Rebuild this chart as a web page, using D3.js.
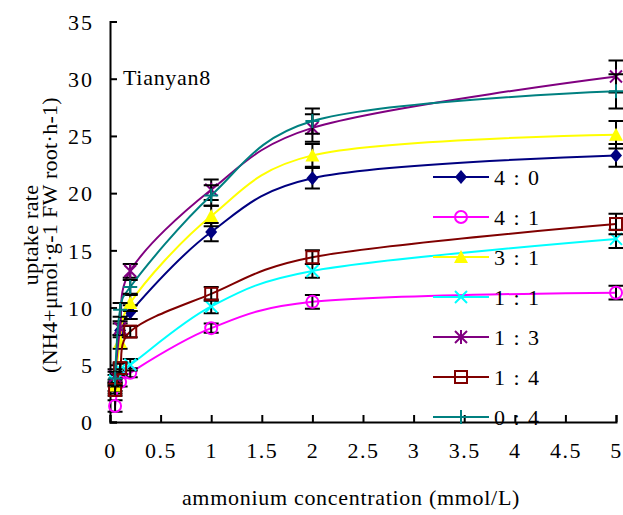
<!DOCTYPE html>
<html>
<head>
<meta charset="utf-8">
<script src="https://cdn.jsdelivr.net/npm/d3@7"></script>
<style>
  body { margin: 0; background: #fff; }
  svg { display: block; }
  text { font-family: "Liberation Serif", "Times New Roman", serif; fill: #000; }
</style>
</head>
<body>
<svg id="chart" width="623" height="515"></svg>
<script>
// Ammonium concentrations (mmol/L) at which uptake was measured
const concentrations = [0.05, 0.1, 0.2, 1, 2, 5];

// NH4+:NO3- ratio treatments
const seriesNames = ["4 : 0", "4 : 1", "3 : 1", "1 : 1", "1 : 3", "1 : 4", "0 : 4"];

// Uptake rate means (µmol·g-1 FW root·h-1)
const rate4to0 = [3.0, 8.0, 9.6, 16.6, 21.3, 23.3];
const rate4to1 = [1.4, 3.5, 4.3, 8.2, 10.5, 11.3];
const rate3to1 = [3.2, 7.0, 10.4, 18.0, 23.3, 25.1];
const rate1to1 = [3.6, 4.6, 5.0, 10.1, 13.2, 16.0];
const rate1to3 = [4.0, 8.2, 13.2, 20.3, 25.7, 30.2];
const rate1to4 = [2.8, 4.7, 7.9, 11.2, 14.4, 17.3];
const rate0to4 = [3.8, 9.8, 11.8, 19.8, 26.3, 28.9];

// Standard errors
const err4to0 = [0.5, 0.6, 0.6, 0.8, 0.9, 1.0];
const err4to1 = [0.5, 0.4, 0.4, 0.4, 0.6, 0.6];
const err3to1 = [0.5, 0.6, 0.7, 0.9, 1.0, 1.2];
const err1to1 = [0.5, 0.5, 0.5, 0.6, 0.6, 0.8];
const err1to3 = [0.6, 0.6, 0.6, 0.9, 1.2, 1.4];
const err1to4 = [0.5, 0.5, 0.5, 0.6, 0.6, 0.9];
const err0to4 = [0.6, 0.6, 0.6, 0.9, 1.1, 1.5];

const xTickValues = [0, 0.5, 1, 1.5, 2, 2.5, 3, 3.5, 4, 4.5, 5];
const yTickValues = [0, 5, 10, 15, 20, 25, 30, 35];

const seriesRates = [rate4to0, rate4to1, rate3to1, rate1to1, rate1to3, rate1to4, rate0to4];
const seriesErrors = [err4to0, err4to1, err3to1, err1to1, err1to3, err1to4, err0to4];
const seriesColors = ["#000080", "#FF00FF", "#FFFF00", "#00FFFF", "#800080", "#800000", "#008080"];
const seriesMarkers = ["diamond", "circle", "triangle", "x", "star", "square", "plus"];

const series = seriesNames.map((name, i) => ({
  name,
  color: seriesColors[i],
  marker: seriesMarkers[i],
  points: concentrations.map((c, j) => ({ x: c, y: seriesRates[i][j], e: seriesErrors[i][j] }))
}));

const svg = d3.select("#chart");
const margin = { left: 110, right: 7, top: 21.5, bottom: 93 };
const W = 623, H = 515;

const x = d3.scaleLinear().domain([0, 5]).range([margin.left, W - margin.right]);
const y = d3.scaleLinear().domain([0, 35]).range([H - margin.bottom, margin.top]);

const FONT = 22;

// Axes (inward ticks)
const xAxis = svg.append("g").attr("transform", `translate(0,${y(0)})`)
  .call(d3.axisBottom(x).tickValues(xTickValues).tickSize(-7).tickFormat(d3.format("")).tickPadding(0));
xAxis.select(".domain").attr("stroke", "#000").attr("stroke-width", 2);
xAxis.selectAll(".tick line").attr("stroke", "#000").attr("stroke-width", 2);
xAxis.selectAll(".tick text").attr("font-size", FONT).attr("y", 20).attr("dy", "0.71em")
  .style("font-family", "Liberation Serif").style("letter-spacing", "1.5px");

const yAxis = svg.append("g").attr("transform", `translate(${x(0)},0)`)
  .call(d3.axisLeft(y).tickValues(yTickValues).tickSize(-7).tickPadding(0));
yAxis.select(".domain").attr("stroke", "#000").attr("stroke-width", 2);
yAxis.selectAll(".tick line").attr("stroke", "#000").attr("stroke-width", 2);
yAxis.selectAll(".tick text").attr("font-size", FONT).attr("x", -16).attr("dy", "0.35em")
  .style("font-family", "Liberation Serif").style("letter-spacing", "2px");

// Marker drawing
function drawMarker(g, type, color, cx, cy) {
  const s = 6;
  if (type === "diamond") {
    g.append("path").attr("d", `M${cx},${cy - 7}L${cx + 6},${cy}L${cx},${cy + 7}L${cx - 6},${cy}Z`)
      .attr("fill", color);
  } else if (type === "circle") {
    g.append("circle").attr("cx", cx).attr("cy", cy).attr("r", 6)
      .attr("fill", "none").attr("stroke", color).attr("stroke-width", 2);
  } else if (type === "triangle") {
    g.append("path").attr("d", `M${cx},${cy - 7}L${cx + 7},${cy + 6}L${cx - 7},${cy + 6}Z`)
      .attr("fill", color);
  } else if (type === "x") {
    g.append("path").attr("d", `M${cx - s},${cy - s}L${cx + s},${cy + s}M${cx - s},${cy + s}L${cx + s},${cy - s}`)
      .attr("stroke", color).attr("stroke-width", 2).attr("fill", "none");
  } else if (type === "star") {
    g.append("path").attr("d", `M${cx - s},${cy - s}L${cx + s},${cy + s}M${cx - s},${cy + s}L${cx + s},${cy - s}M${cx},${cy - 7}L${cx},${cy + 7}`)
      .attr("stroke", color).attr("stroke-width", 2).attr("fill", "none");
  } else if (type === "square") {
    g.append("rect").attr("x", cx - 6).attr("y", cy - 6).attr("width", 12).attr("height", 12)
      .attr("fill", "none").attr("stroke", color).attr("stroke-width", 2);
  } else if (type === "plus") {
    g.append("path").attr("d", `M${cx - 7},${cy}L${cx + 7},${cy}M${cx},${cy - 7}L${cx},${cy + 7}`)
      .attr("stroke", color).attr("stroke-width", 2).attr("fill", "none");
  }
}

// Smoothed connecting lines
const line = d3.line().x(d => x(d.x)).y(d => y(d.y)).curve(d3.curveCatmullRom.alpha(0.2));

const plot = svg.append("g");
series.forEach(s => {
  const g = plot.append("g");
  g.append("path").datum(s.points).attr("d", line)
    .attr("fill", "none").attr("stroke", s.color).attr("stroke-width", 2);
  s.points.forEach(p => {
    const cx = x(p.x), y1 = y(p.y + p.e), y0 = y(p.y - p.e);
    g.append("path")
      .attr("d", `M${cx},${y1}L${cx},${y0}M${cx - 7.5},${y1}L${cx + 7.5},${y1}M${cx - 7.5},${y0}L${cx + 7.5},${y0}`)
      .attr("stroke", "#000").attr("stroke-width", 2).attr("fill", "none");
  });
  s.points.forEach(p => drawMarker(g, s.marker, s.color, x(p.x), y(p.y)));
});

// Cultivar label
svg.append("text").attr("x", 123).attr("y", 85).attr("font-size", FONT)
  .style("letter-spacing", "0.7px").text("Tianyan8");

// Legend
const legend = svg.append("g");
series.forEach((s, i) => {
  const ly = 177 + i * 40;
  legend.append("line").attr("x1", 433).attr("x2", 489).attr("y1", ly).attr("y2", ly)
    .attr("stroke", s.color).attr("stroke-width", 2);
  drawMarker(legend, s.marker, s.color, 461, ly);
  legend.append("text").attr("x", 494).attr("y", ly).attr("dy", "0.35em")
    .attr("font-size", FONT).style("letter-spacing", "1.5px").text(s.name);
});

// Axis titles
svg.append("text").attr("x", 351).attr("y", 505).attr("text-anchor", "middle")
  .attr("font-size", FONT).style("letter-spacing", "0.7px").text("ammonium concentration (mmol/L)");

const yTitle = svg.append("text").attr("transform", "translate(0,235) rotate(-90)")
  .attr("text-anchor", "middle").attr("font-size", FONT).style("letter-spacing", "0.3px");
yTitle.append("tspan").attr("x", 0).attr("y", 38).text("uptake rate");
yTitle.append("tspan").attr("x", 0).attr("y", 57).text("(NH4+μmol·g-1 FW root·h-1)");
</script>
</body>
</html>
